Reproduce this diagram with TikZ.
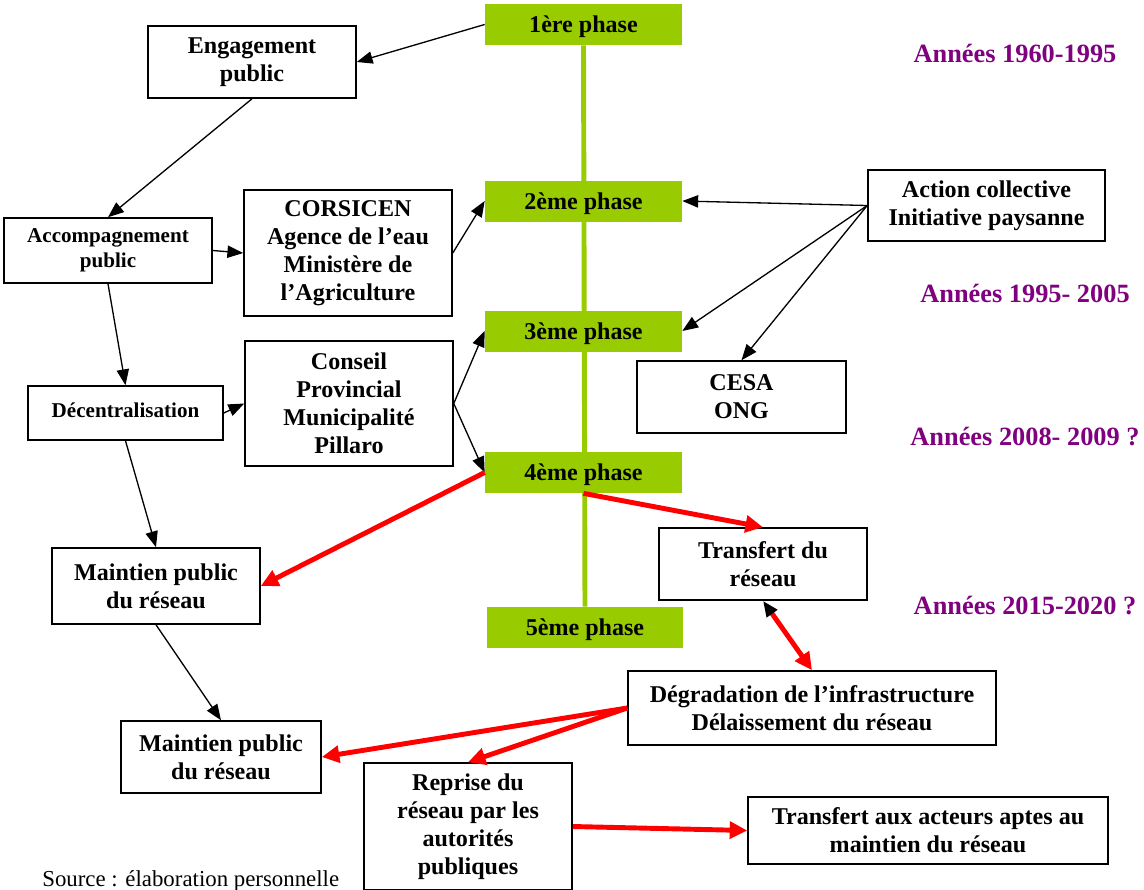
\documentclass[tikz,border=0pt]{standalone}
\usepackage{fontspec}
\setmainfont{Liberation Serif}
\usetikzlibrary{arrows.meta,backgrounds}
\definecolor{phasegreen}{HTML}{99CC00}
\definecolor{periodpurple}{HTML}{800080}
\tikzset{
  box/.style={draw,line width=0.9pt,fill=white,align=center,inner sep=2pt,
    font=\fontsize{13.7}{15.9}\selectfont\bfseries},
  smallbox/.style={box,font=\fontsize{12}{14.2}\selectfont\bfseries},
  phase/.style={fill=phasegreen,minimum width=3.94cm,minimum height=0.82cm,
    inner sep=0pt,text depth=0pt,font=\fontsize{13.7}{15.9}\selectfont\bfseries},
  period/.style={text=periodpurple,font=\fontsize{15}{18}\selectfont\bfseries},
  arr/.style={line width=0.75pt,-{Triangle[length=9pt,width=7pt]}},
  redarr/.style={red,line width=2.8pt,-{Triangle[length=10pt,width=9.5pt]}}
}
\begin{document}
\begin{tikzpicture}[x=0.02cm,y=-0.02cm]
  \useasboundingbox (0,0) rectangle (1144,890);

  % phases on the time line
  \node[phase] (ph1) at (583.5,24.5) {1ère phase};
  \node[phase] (ph2) at (583.5,201) {2ème phase};
  \node[phase] (ph3) at (583.5,331) {3ème phase};
  \node[phase] (ph4) at (583.5,472.5) {4ème phase};
  \node[phase] (ph5) at (585,627.5) {5ème phase};
  \begin{scope}[on background layer]
    \draw[phasegreen,line width=2.8pt] (ph1.south) -- (ph5.north);
  \end{scope}

  % periods
  \node[period] (p1) at (1015,53) {Années 1960-1995};
  \node[period] (p2) at (1025,293) {Années 1995- 2005};
  \node[period] (p3) at (1025,437) {Années 2008- 2009 ?};
  \node[period] (p4) at (1025,606) {Années 2015-2020 ?};

  % public side
  \node[box,minimum width=4.16cm,minimum height=1.44cm] (eng) at (252,62) {Engagement\\public};
  \node[smallbox,minimum width=4.16cm,minimum height=1.30cm] (acc) at (108,250.5) {Accompagnement\\public};
  \node[box,minimum width=4.16cm,minimum height=2.52cm] (cors) at (348,253) {CORSICEN\\Agence de l’eau\\Ministère de\\l’Agriculture};
  \node[smallbox,minimum width=3.9cm,minimum height=1.08cm] (dec) at (125.5,413) {\raisebox{3.4pt}{Décentralisation}};
  \node[box,minimum width=4.16cm,minimum height=2.50cm] (cons) at (349,403.5) {Conseil\\Provincial\\Municipalité\\Pillaro};
  \node[box,minimum width=4.16cm,minimum height=1.52cm] (main1) at (156,586) {Maintien public\\du réseau};
  \node[box,minimum width=4.0cm,minimum height=1.44cm] (main2) at (221,757) {Maintien public\\du réseau};

  % collective side
  \node[box,minimum width=4.74cm,minimum height=1.42cm] (act) at (986.5,205.5) {Action collective\\Initiative paysanne};
  \node[box,minimum width=4.18cm,minimum height=1.44cm] (cesa) at (741.5,397) {CESA\\ONG};
  \node[box,minimum width=4.16cm,minimum height=1.44cm] (trans) at (763,564) {Transfert du\\réseau};
  \node[box,minimum width=7.36cm,minimum height=1.48cm] (deg) at (812,708) {Dégradation de l’infrastructure\\Délaissement du réseau};
  \node[box,minimum width=4.16cm,minimum height=2.54cm] (rep) at (468,826.5) {Reprise du\\réseau par les\\autorités\\publiques};
  \node[box,minimum width=7.2cm,minimum height=1.34cm] (ta) at (928,830.5) {Transfert aux acteurs aptes au\\maintien du réseau};

  \node[anchor=base west,inner sep=0pt,font=\fontsize{13}{15}\selectfont] (src) at (42,886) {Source : élaboration personnelle};

  % black links
  \draw[arr] (ph1.west) -- (eng.east);
  \draw[arr] (eng.south) -- (acc.north);
  \draw[arr] (acc.east) -- (cors.west);
  \draw[arr] (acc.south) -- (dec.north);
  \draw[arr] (dec.east) -- (cons.west);
  \draw[arr] (cors.east) -- (ph2.west);
  \draw[arr] (cons.east) -- (ph3.west);
  \draw[arr] (cons.east) -- (ph4.west);
  \draw[arr] (act.west) -- (ph2.east);
  \draw[arr] (act.west) -- (ph3.east);
  \draw[arr] (act.west) -- (cesa.north);
  \draw[arr] (dec.south) -- (main1.north);
  \draw[arr] (main1.south) -- (main2.north);

  % red links
  \draw[redarr] (ph4.west) -- (main1.east);
  \draw[redarr] (ph4.south) -- (trans.north);
  \draw[redarr,{Triangle[length=9pt,width=7pt,black]}-{Triangle[length=10pt,width=9.5pt]}] (trans.south) -- (deg.north);
  \draw[redarr] (deg.west) -- (main2.east);
  \draw[redarr] (deg.west) -- (rep.north);
  \draw[redarr] (rep.east) -- (ta.west);
\end{tikzpicture}
\end{document}
